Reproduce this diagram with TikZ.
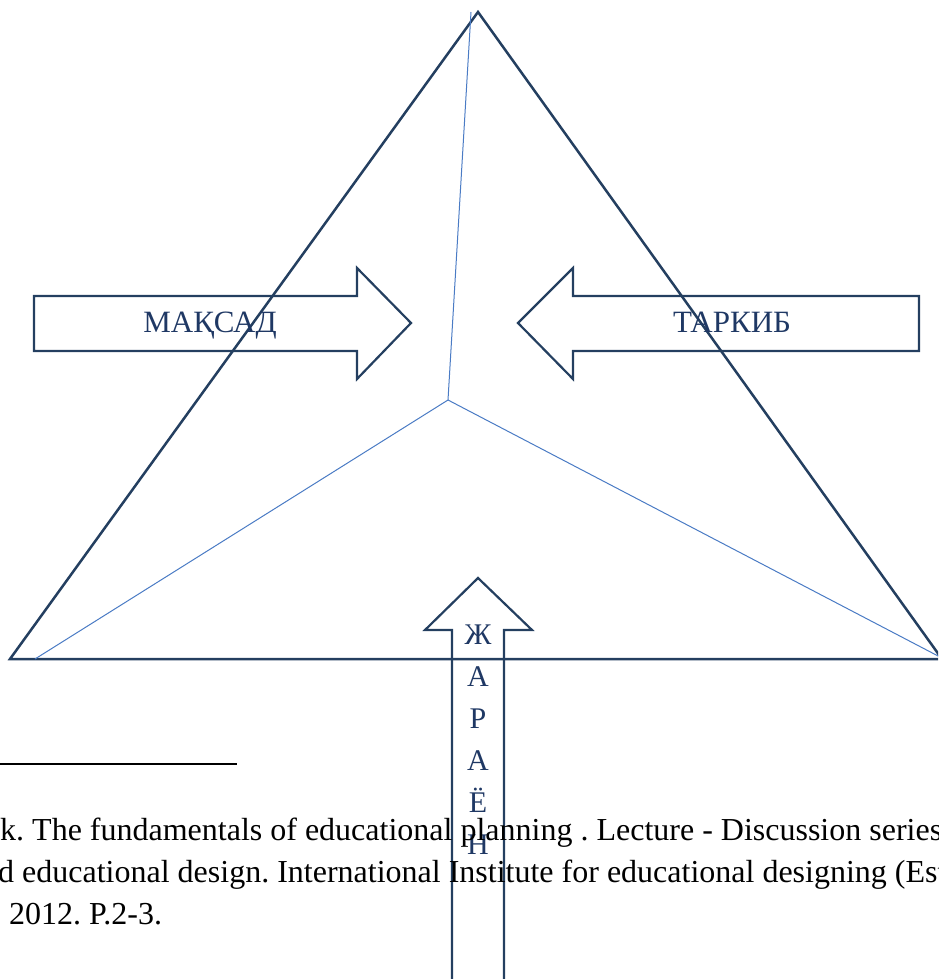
\documentclass[tikz,border=0pt]{standalone}
\usepackage{fontspec}
\setmainfont{Liberation Serif}
\definecolor{frame}{HTML}{243F60}
\definecolor{spoke}{HTML}{4A7BC4}
\definecolor{navy}{HTML}{1F3864}
\frenchspacing
\tikzset{
side/.style={draw=frame, line width=2.5pt, line join=miter},
spokeline/.style={draw=spoke, line width=1pt},
blockarrow/.style={draw=frame, line width=2.2pt, line join=miter},
arrowtext/.style={text=navy, font=\fontsize{31}{31}\selectfont, inner sep=0pt, anchor=base},
notetext/.style={font=\fontsize{32}{42}\selectfont, inner sep=0pt, anchor=base west},
}
\begin{document}
\begin{tikzpicture}[x=1pt,y=-1pt]
\useasboundingbox (0,0) rectangle (938,979);
\clip (0,0) rectangle (938,979);
\coordinate (top) at (478,12);
\coordinate (left) at (10,659);
\coordinate (right) at (942,659);
\coordinate (mid) at (448,400);
\coordinate (lfoot) at (35,659);
\coordinate (rfoot) at (940,657);
\coordinate (tfoot) at (471,12);
\draw [side] (top) -- (left) -- (right) -- cycle;
\draw [spokeline] (mid) -- (tfoot);
\draw [spokeline] (mid) -- (lfoot);
\draw [spokeline] (mid) -- (rfoot);
% arrows
\draw [blockarrow] (34,296) -- (357,296) -- (357,268) -- (411,323) -- (357,379) -- (357,351) -- (34,351) -- cycle;
\draw [blockarrow] (919,296) -- (573,296) -- (573,268) -- (518,323) -- (573,379) -- (573,351) -- (919,351) -- cycle;
\draw [blockarrow] (452,990) -- (452,630) -- (425,630) -- (478,578) -- (532,630) -- (504,630) -- (504,990);
\node [arrowtext] (goal) at (210,332) {МАҚСАД};
\node [arrowtext] (content) at (732,332) {ТАРКИБ};
\foreach \ch [count=\i] in {Ж,А,Р,А,Ё,Н}
  \node [arrowtext, font=\fontsize{30}{30}\selectfont] (way\i) at (478,602+42*\i) {\ch};
% footnote
\coordinate (rulel) at (0,764);
\coordinate (ruler) at (237,764);
\draw [line width=2pt] (rulel) -- (ruler);
\node [notetext] (note1) at (0,840) {k. The fundamentals of educational planning . Lecture - Discussion series};
\node [notetext] (note2) at (-2,882) {d educational design. International Institute for educational designing (Est};
\node [notetext] (note3) at (9,924) {2012. P.2-3.};
\end{tikzpicture}
\end{document}
